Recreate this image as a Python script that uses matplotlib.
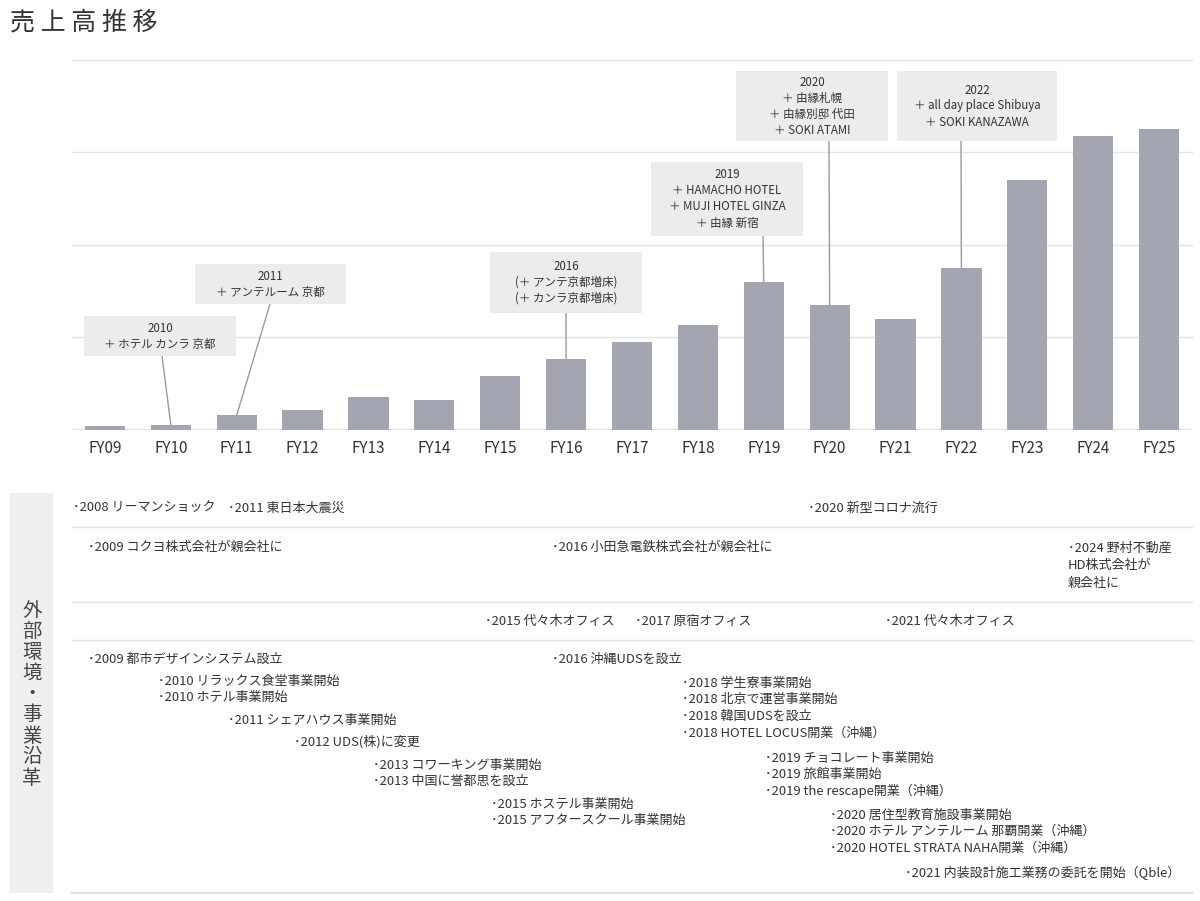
import matplotlib
matplotlib.use('Agg')
import matplotlib.pyplot as plt
from matplotlib.patches import Rectangle, ConnectionPatch
from matplotlib.lines import Line2D

plt.rcParams['font.family'] = ['Noto Sans CJK JP', 'DejaVu Sans']

W, H = 1200, 901

# 売上高（目盛り1本 = 1単位、実額の表示なし）
fiscal_years = ['FY09', 'FY10', 'FY11', 'FY12', 'FY13', 'FY14', 'FY15', 'FY16', 'FY17',
                'FY18', 'FY19', 'FY20', 'FY21', 'FY22', 'FY23', 'FY24', 'FY25']
sales = [0.04, 0.055, 0.16, 0.22, 0.36, 0.32, 0.58, 0.77, 0.95,
         1.13, 1.60, 1.35, 1.20, 1.75, 2.70, 3.18, 3.25]

# 吹き出し
note_years = ['FY10', 'FY11', 'FY16', 'FY19', 'FY20', 'FY22']
note_texts = [
    ['2010', '＋ ホテル カンラ 京都'],
    ['2011', '＋ アンテルーム 京都'],
    ['2016', '(＋ アンテ京都増床)', '(＋ カンラ京都増床)'],
    ['2019', '＋ HAMACHO HOTEL', '＋ MUJI HOTEL GINZA', '＋ 由縁 新宿'],
    ['2020', '＋ 由縁札幌', '＋ 由縁別邸 代田', '＋ SOKI ATAMI'],
    ['2022', '＋ all day place Shibuya', '＋ SOKI KANAZAWA'],
]
# 吹き出しの配置 (left, top, right, bottom) px と線の始点 px
note_boxes = [(84, 316, 236, 356), (195, 264, 346, 304), (490, 252, 642, 313),
              (651, 162, 803, 236), (736, 71, 888, 141), (897, 71, 1057, 141)]
note_anchor = [(162, 356), (270, 304), (566, 313), (763, 236), (829, 141), (961, 141)]

# 外部環境・事業沿革
env_texts = [
    ['･2008 リーマンショック'], ['･2011 東日本大震災'], ['･2020 新型コロナ流行'],
    ['･2009 コクヨ株式会社が親会社に'], ['･2016 小田急電鉄株式会社が親会社に'],
    ['･2024 野村不動産', 'HD株式会社が', '親会社に'],
    ['･2015 代々木オフィス'], ['･2017 原宿オフィス'], ['･2021 代々木オフィス'],
]
env_pos = [(73, 508), (228, 508), (808, 508),
           (88, 547), (552, 547), (1068, 548),
           (485, 621), (635, 621), (885, 621)]

history_texts = [
    ['･2009 都市デザインシステム設立'],
    ['･2010 リラックス食堂事業開始', '･2010 ホテル事業開始'],
    ['･2011 シェアハウス事業開始'],
    ['･2012 UDS(株)に変更'],
    ['･2013 コワーキング事業開始', '･2013 中国に誉都思を設立'],
    ['･2015 ホステル事業開始', '･2015 アフタースクール事業開始'],
    ['･2016 沖縄UDSを設立'],
    ['･2018 学生寮事業開始', '･2018 北京で運営事業開始', '･2018 韓国UDSを設立',
     '･2018 HOTEL LOCUS開業（沖縄）'],
    ['･2019 チョコレート事業開始', '･2019 旅館事業開始', '･2019 the rescape開業（沖縄）'],
    ['･2020 居住型教育施設事業開始', '･2020 ホテル アンテルーム 那覇開業（沖縄）',
     '･2020 HOTEL STRATA NAHA開業（沖縄）'],
    ['･2021 内装設計施工業務の委託を開始（Qble）'],
]
history_pos = [(88, 659), (158, 681), (228, 720), (294, 742), (373, 765), (491, 804),
               (552, 659), (682, 683), (765, 758), (830, 815), (905, 873)]


def fx(x):
    return x / W


def fy(y):
    return 1 - y / H


fig = plt.figure(figsize=(12, 9.01), dpi=100)
fig.patch.set_facecolor('white')

# タイトル
fig.text(fx(10), fy(22), '売 上 高 推 移', fontsize=18, color='#333333', va='center', ha='left')

# 棒グラフ
ax = fig.add_axes([fx(72), fy(430), (1192 - 72) / W, (430 - 60) / H])
ax.set_xlim(-0.5, len(fiscal_years) - 0.5)
ax.set_ylim(0, 4)
for g in [1, 2, 3, 4]:
    ax.axhline(g, color='#e3e3e3', lw=1, zorder=0, clip_on=False)
ax.axhline(0, color='#dddddd', lw=1.2, zorder=0)
xs = list(range(len(fiscal_years)))
ax.bar(xs, sales, width=0.61, color='#a3a6b1', zorder=2)
ax.set_xticks(xs)
ax.set_xticklabels(fiscal_years, fontsize=11, color='#333333')
ax.tick_params(axis='x', length=0, pad=7)
ax.set_yticks([])
for s in ax.spines.values():
    s.set_visible(False)
ax.patch.set_alpha(0)

# 吹き出し
for yr, lines, box, anc in zip(note_years, note_texts, note_boxes, note_anchor):
    i = fiscal_years.index(yr)
    x0, y0, x1, y1 = box
    fig.patches.append(Rectangle((fx(x0), fy(y1)), (x1 - x0) / W, (y1 - y0) / H,
                                 transform=fig.transFigure, facecolor='#ececec',
                                 edgecolor='none', zorder=3))
    con = ConnectionPatch(xyA=(fx(anc[0]), fy(anc[1])), coordsA=fig.transFigure,
                          xyB=(i, sales[i]), coordsB=ax.transData,
                          color='#9a9a9a', lw=1, zorder=2)
    fig.add_artist(con)
    n = len(lines)
    cy = (y0 + y1) / 2
    for k, t in enumerate(lines):
        ty = cy + (k - (n - 1) / 2) * 16
        fig.text(fx((x0 + x1) / 2), fy(ty), t, fontsize=8.3, color='#333333',
                 ha='center', va='center', zorder=4)

# 外部環境・事業沿革 パネル
fig.patches.append(Rectangle((fx(10), fy(893)), 43 / W, 400 / H, transform=fig.transFigure,
                             facecolor='#efefef', edgecolor='none', zorder=0))
fig.text(fx(32), fy(694), '\n'.join('外部環境・事業沿革'), fontsize=14, color='#444444',
         ha='center', va='center', linespacing=1.0)

for yl in [527, 602, 640]:
    fig.add_artist(Line2D([fx(72), fx(1192)], [fy(yl), fy(yl)], color='#e4e4e4', lw=1,
                          transform=fig.transFigure))
fig.add_artist(Line2D([fx(72), fx(1192)], [fy(893), fy(893)], color='#dedede', lw=1.5,
                      transform=fig.transFigure))

for lines, (x, y) in zip(env_texts, env_pos):
    for k, t in enumerate(lines):
        fig.text(fx(x), fy(y + k * 17.5), t, fontsize=9.4, color='#333333', ha='left', va='center')

for lines, (x, y) in zip(history_texts, history_pos):
    for k, t in enumerate(lines):
        fig.text(fx(x), fy(y + k * 16.7), t, fontsize=9.4, color='#333333', ha='left', va='center')

fig.savefig('out.png', dpi=100)
